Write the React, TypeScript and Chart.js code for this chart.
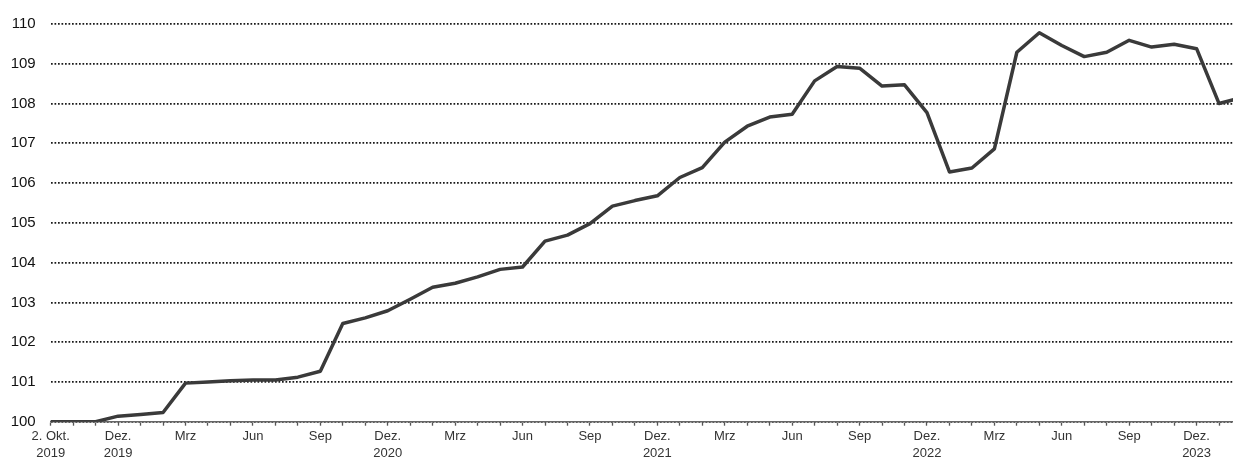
import React, { useEffect, useRef } from 'react';
import { Chart, registerables } from 'chart.js';

Chart.register(...registerables);

// Categories: base date followed by monthly observations
const periods: string[] = [
  '2. Okt. 2019',
  'Okt. 2019', 'Nov. 2019', 'Dez. 2019',
  'Jan. 2020', 'Feb. 2020', 'Mrz. 2020', 'Apr. 2020', 'Mai 2020', 'Jun. 2020',
  'Jul. 2020', 'Aug. 2020', 'Sep. 2020', 'Okt. 2020', 'Nov. 2020', 'Dez. 2020',
  'Jan. 2021', 'Feb. 2021', 'Mrz. 2021', 'Apr. 2021', 'Mai 2021', 'Jun. 2021',
  'Jul. 2021', 'Aug. 2021', 'Sep. 2021', 'Okt. 2021', 'Nov. 2021', 'Dez. 2021',
  'Jan. 2022', 'Feb. 2022', 'Mrz. 2022', 'Apr. 2022', 'Mai 2022', 'Jun. 2022',
  'Jul. 2022', 'Aug. 2022', 'Sep. 2022', 'Okt. 2022', 'Nov. 2022', 'Dez. 2022',
  'Jan. 2023', 'Feb. 2023', 'Mrz. 2023', 'Apr. 2023', 'Mai 2023', 'Jun. 2023',
  'Jul. 2023', 'Aug. 2023', 'Sep. 2023', 'Okt. 2023', 'Nov. 2023', 'Dez. 2023',
  'Jan. 2024', 'Feb. 2024',
];

// Index values (2. Okt. 2019 = 100)
const values: number[] = [
  100, 100, 100, 100.14,
  100.18, 100.23, 100.97, 101.0, 101.03, 101.05,
  101.05, 101.12, 101.27, 102.47, 102.61, 102.79,
  103.08, 103.38, 103.48, 103.64, 103.83, 103.89,
  104.54, 104.69, 104.98, 105.42, 105.56, 105.68,
  106.14, 106.39, 107.03, 107.43, 107.66, 107.73,
  108.57, 108.93, 108.89, 108.44, 108.47, 107.77,
  106.28, 106.38, 106.86, 109.29, 109.78, 109.46,
  109.18, 109.29, 109.59, 109.42, 109.49, 109.38,
  108.0, 108.15,
];

// Tick labels shown at every third period (indices 0, 3, 6, ...)
const tickLabels: string[] = [
  '2. Okt.\n2019', 'Dez.\n2019',
  'Mrz', 'Jun', 'Sep', 'Dez.\n2020',
  'Mrz', 'Jun', 'Sep', 'Dez.\n2021',
  'Mrz', 'Jun', 'Sep', 'Dez.\n2022',
  'Mrz', 'Jun', 'Sep', 'Dez.\n2023',
];

const yMin = 100;
const yMax = 110;
const xVisibleMax = 52.62;

const FONT = '"Liberation Sans", Arial, Helvetica, sans-serif';

export default function App() {
  const ref = useRef<HTMLCanvasElement>(null);

  useEffect(() => {
    if (!ref.current) return;
    const chart = new Chart(ref.current, {
      type: 'line',
      data: {
        labels: periods,
        datasets: [
          {
            label: 'Index',
            data: values.map((v, i) => ({ x: i, y: v })),
            borderColor: '#3a3a3a',
            borderWidth: 3.5,
            pointRadius: 0,
            tension: 0,
            borderJoinStyle: 'round',
            borderCapStyle: 'round',
            fill: false,
          },
        ],
      },
      options: {
        animation: false,
        responsive: false,
        layout: { padding: { top: 22, right: 0, left: 0, bottom: 0 } },
        plugins: {
          legend: { display: false },
          tooltip: { enabled: false },
        },
        scales: {
          x: {
            type: 'linear',
            min: 0,
            max: xVisibleMax,
            afterBuildTicks: (s: any) => {
              s.ticks = periods
                .map((_, i) => ({ value: i }))
                .filter((t) => t.value <= xVisibleMax);
            },
            afterFit: (s: any) => {
              s.height = 35.3;
            },
            grid: {
              drawOnChartArea: false,
              drawTicks: true,
              tickLength: 4,
              tickColor: '#555',
              tickWidth: 1.3,
            },
            border: { display: true, color: '#666', width: 1.6 },
            ticks: {
              autoSkip: false,
              maxRotation: 0,
              minRotation: 0,
              padding: 1.5,
              color: '#333',
              font: { family: FONT, size: 13, lineHeight: 1.35 },
              callback: (v: any) => {
                const i = Math.round(Number(v));
                if (i % 3 !== 0) return '';
                const lbl = tickLabels[i / 3];
                return lbl ? lbl.split('\n') : '';
              },
            },
          },
          y: {
            min: yMin,
            max: yMax,
            afterFit: (s: any) => {
              s.width = 50.7;
            },
            grid: {
              color: '#1a1a1a',
              lineWidth: 1.7,
              drawTicks: false,
            },
            border: { display: false, dash: [1.7, 1.8] },
            ticks: {
              stepSize: 1,
              padding: 15,
              color: '#111',
              font: { family: FONT, size: 15 },
            },
          },
        },
      },
    });
    return () => chart.destroy();
  }, []);

  return (
    <div style={{ position: 'absolute', left: 0, top: 0, width: 1233, height: 457 }}>
      <canvas ref={ref} width={1233} height={457} />
    </div>
  );
}
